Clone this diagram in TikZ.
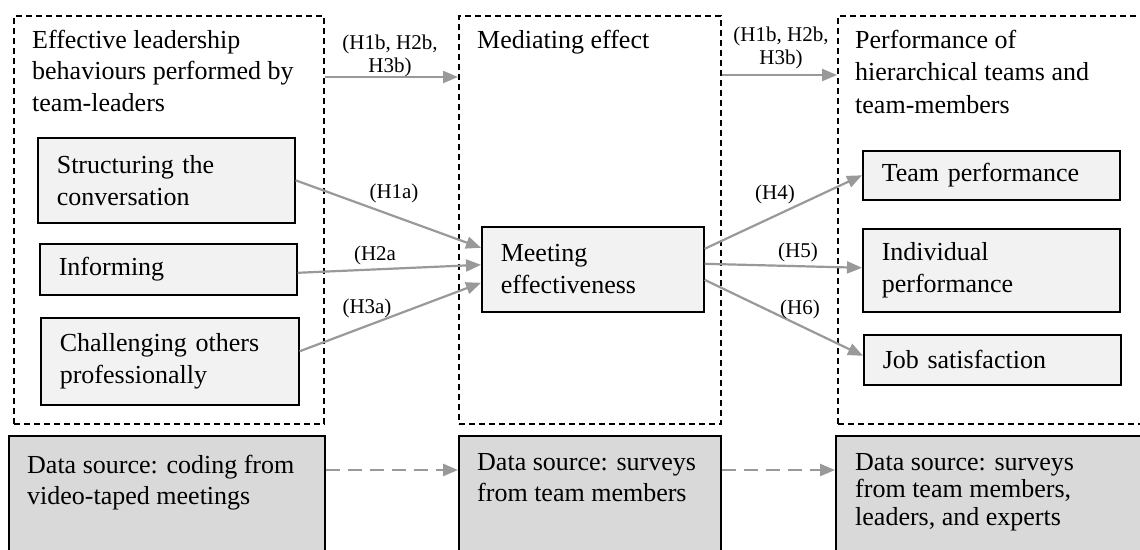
\documentclass[tikz,border=0pt]{standalone}
\usepackage{fontspec}
\setmainfont{Liberation Serif}
\usetikzlibrary{arrows.meta,calc}
\definecolor{boxfill}{HTML}{F2F2F2}
\definecolor{dsfill}{HTML}{D9D9D9}
\definecolor{arrgray}{HTML}{999999}
\newcommand\bigtxt{\fontsize{26}{32}\selectfont}
\begin{document}
\begin{tikzpicture}[x=1pt,y=-1pt,
  grp/.style={draw=black, dash pattern=on 6pt off 4pt, line width=1.6pt, inner sep=0pt, anchor=north west},
  ibox/.style={draw=black, line width=1.6pt, fill=boxfill, anchor=north west, inner xsep=19pt, inner ysep=0pt, align=left, font=\bigtxt},
  dsbox/.style={draw=black, line width=1.6pt, fill=dsfill, anchor=north west, inner sep=0pt},
  ttl/.style={anchor=base west, align=left, inner sep=0pt, font=\fontsize{26}{31.5}\selectfont},
  lbl/.style={inner sep=0pt, font=\fontsize{21}{23}\selectfont},
  arr/.style={draw=arrgray, line width=2.2pt, -{Triangle[length=15pt,width=12pt]}},
  darr/.style={arr, dash pattern=on 14pt off 8pt, line width=2.5pt}]
\useasboundingbox (0,0) rectangle (1140,549);
\clip (0,0) rectangle (1140,549);
\fill[white] (0,0) rectangle (1140,549);

% group frames
\node[grp, minimum width=310pt, minimum height=408pt] (g1) at (13,15) {};
\node[grp, minimum width=262pt, minimum height=408pt] (g2) at (458,15) {};
\node[grp, minimum width=320pt, minimum height=408pt] (g3) at (837,15) {};

% titles (base = baseline of the last line)
\node[ttl] (t1) at (32,111) {Effective leadership\\behaviours performed by\\team-leaders};
\node[ttl] (t2) at (477,48) {Mediating effect};
\node[ttl, font=\fontsize{26}{32.5}\selectfont] (t3) at (855,113) {Performance of\\hierarchical teams and\\team-members};

% boxes
\node[ibox, text width=219pt, minimum height=85pt] (s1) at (37,137) {Structuring the\\conversation};
\node[ibox, text width=219pt, minimum height=51pt] (s2) at (39,243) {Informing};
\node[ibox, text width=220pt, minimum height=87pt] (s3) at (40,317) {Challenging others\\professionally};
\node[ibox, text width=184pt, minimum height=85pt] (m) at (481,226) {Meeting\\effectiveness};
\node[ibox, text width=219pt, minimum height=49pt] (o1) at (862,150) {Team performance};
\node[ibox, text width=219pt, minimum height=83pt] (o2) at (862,228) {Individual\\performance};
\node[ibox, text width=219pt, minimum height=50pt] (o3) at (863,334) {Job satisfaction};

% data source boxes
\node[dsbox, minimum width=316pt, minimum height=130pt] (d1) at (8,435) {};
\node[dsbox, minimum width=262pt, minimum height=130pt] (d2) at (458,435) {};
\node[dsbox, minimum width=320pt, minimum height=130pt] (d3) at (835,435) {};
\node[ttl, font=\fontsize{26}{31}\selectfont] (dt1) at (27,504) {Data source: coding from\\video-taped meetings};
\node[ttl, font=\fontsize{26}{31}\selectfont] (dt2) at (477,501) {Data source: surveys\\from team members};
\node[ttl, font=\fontsize{26}{27.5}\selectfont] (dt3) at (855,525) {Data source: surveys\\from team members,\\leaders, and experts};

% arrows
\draw[arr] ([yshift=-62pt]g1.north east) -- ([yshift=-62pt]g2.north west);
\draw[arr] ([yshift=-60pt]g2.north east) -- ([yshift=-60pt]g3.north west);
\draw[arr] (s1.east) -- ([yshift=21.5pt]m.west);
\draw[arr] ([yshift=-3.5pt]s2.east) -- ([yshift=4.5pt]m.west);
\draw[arr] ([yshift=10pt]s3.east) -- ([yshift=-13.5pt]m.west);
\draw[arr] ([yshift=20.5pt]m.east) -- (o1.west);
\draw[arr] ([yshift=5.5pt]m.east) -- ([yshift=2.5pt]o2.west);
\draw[arr] ([yshift=-10.5pt]m.east) -- ([yshift=4pt]o3.west);
\draw[darr] ([yshift=-35pt]d1.north east) -- ([yshift=-35pt]d2.north west);
\draw[darr] ([yshift=-35pt]d2.north east) -- ([yshift=-35pt]d3.north west);

% labels
\node[lbl, align=center, anchor=base] (l1) at (390,72) {(H1b, H2b,\\H3b)};
\node[lbl, align=center, anchor=base] (l2) at (781,64) {(H1b, H2b,\\H3b)};
\node[lbl] (la1) at (394,193) {(H1a)};
\node[lbl] (la2) at (375,255) {(H2a};
\node[lbl] (la3) at (367,308) {(H3a)};
\node[lbl] (la4) at (775,194) {(H4)};
\node[lbl] (la5) at (798,252) {(H5)};
\node[lbl] (la6) at (800,309) {(H6)};
\end{tikzpicture}
\end{document}
